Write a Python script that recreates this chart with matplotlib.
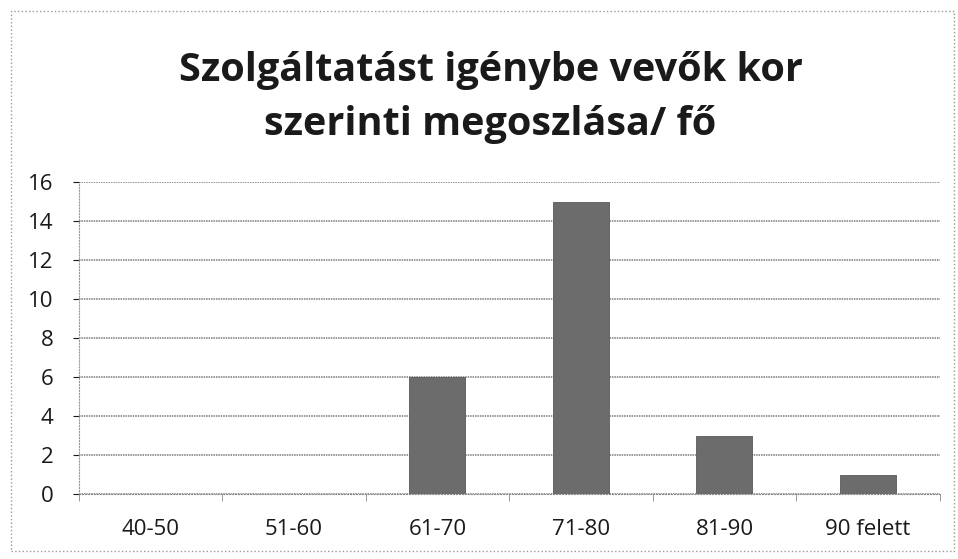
import matplotlib.pyplot as plt
import numpy as np

categories = ["40-50", "51-60", "61-70", "71-80", "81-90", "90 felett"]
counts = [0, 0, 6, 15, 3, 1]
title = "Szolgáltatást igénybe vevők kor\nszerinti megoszlása/ fő"

plt.rcParams["font.family"] = ["Open Sans", "DejaVu Sans"]

fig = plt.figure(figsize=(9.58, 5.59), dpi=100)
ax = fig.add_axes([0.082, 0.116, 0.899, 0.558])

x = np.arange(len(categories))
ax.bar(x, counts, width=0.39, color="#6c6c6c", edgecolor="#5a5a5a", linewidth=0.6, zorder=3)

ax.set_xlim(-0.5, len(categories) - 0.5)
ax.set_ylim(0, 16)
ax.set_yticks(np.arange(0, 17, 2))
ax.set_xticks(x)
ax.set_xticklabels(categories)
ax.set_xticks(np.arange(-0.5, len(categories), 1), minor=True)
ax.tick_params(axis="x", which="major", length=0, pad=18, labelsize=16, colors="#1a1a1a")
ax.tick_params(axis="x", which="minor", length=5, color="#888888")
ax.tick_params(axis="y", length=4, pad=14, labelsize=16, colors="#1a1a1a")

ax.grid(axis="y", color="#7a7a7a", linewidth=1.1, linestyle=(0, (1, 0.6)), zorder=0)
for side in ["top", "right"]:
    ax.spines[side].set_visible(False)
ax.spines["left"].set_color("#999999")
ax.spines["left"].set_linestyle(":")
ax.spines["bottom"].set_color("#888888")
ax.spines["bottom"].set_linestyle(":")

fig.text(0.512, 0.826, title, ha="center", va="center", fontsize=28.5,
         fontweight="bold", color="#1a1a1a", linespacing=1.5)

# dotted frame around the chart
frame = plt.Rectangle((0.011, 0.015), 0.985, 0.965, transform=fig.transFigure,
                      fill=False, edgecolor="#999999", linewidth=1.0, linestyle=":")
fig.patches.append(frame)

fig.savefig("out.png", dpi=100)
